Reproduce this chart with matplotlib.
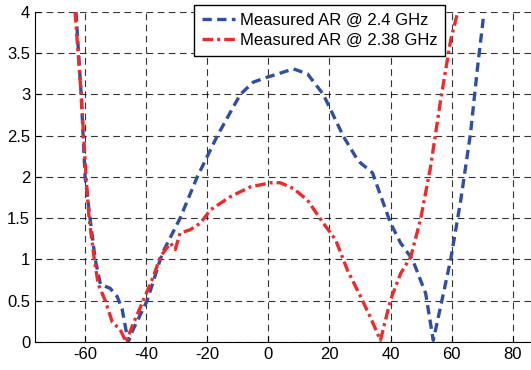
import numpy as np
import matplotlib
matplotlib.use('Agg')
import matplotlib.pyplot as plt

# Measured AR @ 2.4 GHz (angle in deg, AR in dB)
ang_24 = [-63.0, -61.3, -60.0, -58.4, -56.7, -55.0, -51.8, -49.5, -47.9, -45.9,
          -44.3, -39.7, -35.4, -34.4, -28.9, -23.3, -16.7, -9.2, -4.9, -0.3,
          4.0, 8.2, 12.8, 18.0, 24.6, 28.5, 30.2, 34.1, 40.0, 43.3, 47.2,
          51.5, 54.0, 56.4, 59.7, 63.0, 66.2, 68.5, 70.5]
ar_24 = [4.0, 3.0, 2.0, 1.5, 1.0, 0.7, 0.65, 0.55, 0.4, 0.0,
         0.15, 0.5, 1.0, 1.1, 1.5, 2.0, 2.5, 3.0, 3.15, 3.21,
         3.26, 3.31, 3.25, 3.0, 2.49, 2.25, 2.17, 2.05, 1.44, 1.2, 1.0,
         0.59, 0.02, 0.43, 1.0, 1.72, 2.53, 3.33, 3.96]

# Measured AR @ 2.38 GHz
ang_238 = [-63.3, -61.3, -59.7, -58.7, -57.0, -55.7, -53.4, -51.1, -48.5, -46.6,
           -44.5, -41.0, -37.7, -35.4, -32.1, -30.5, -28.9, -25.6, -22.3, -19.0,
           -12.5, -5.9, 0.7, 3.9, 8.2, 12.8, 18.0, 22.0, 25.9, 30.2, 33.4,
           36.7, 40.0, 43.3, 46.6, 49.8, 53.1, 56.4, 59.7, 62.0]
ar_238 = [4.0, 3.0, 2.0, 1.5, 1.0, 0.7, 0.5, 0.24, 0.15, 0.0,
          0.2, 0.5, 0.79, 1.03, 1.2, 1.12, 1.32, 1.36, 1.44, 1.6,
          1.76, 1.88, 1.93, 1.93, 1.86, 1.72, 1.44, 1.24, 0.87, 0.55, 0.3,
          0.02, 0.51, 0.83, 1.03, 1.48, 2.12, 2.93, 3.66, 4.0]

xticks = [-60, -40, -20, 0, 20, 40, 60, 80]
yticks = [0, 0.5, 1, 1.5, 2, 2.5, 3, 3.5, 4]

plt.rcParams['font.family'] = ['Liberation Sans', 'DejaVu Sans']
plt.rcParams['axes.unicode_minus'] = False

fig = plt.figure(figsize=(5.31, 3.70), dpi=100)
ax = fig.add_axes([0.066, 0.0757, 0.934, 0.892])

ax.plot(ang_24, ar_24, color='#2f4fa6', linestyle=(0, (2.8, 1.6)), linewidth=2.4,
        label='Measured AR @ 2.4 GHz')
ax.plot(ang_238, ar_238, color='#ee2a2a', linestyle=(0, (3.2, 1.2, 0.9, 1.2)), linewidth=2.4,
        label='Measured AR @ 2.38 GHz')

ax.set_xlim(-76.4, 86)
ax.set_ylim(0, 4)
ax.set_xticks(xticks)
ax.set_yticks(yticks)
ax.set_yticklabels(['0', '0.5', '1', '1.5', '2', '2.5', '3', '3.5', '4'])
ax.tick_params(direction='in', labelsize=12, length=4)
ax.grid(True, color='black', linestyle=(0, (6, 4)), linewidth=0.8, alpha=0.8)
ax.spines['top'].set_visible(False)
ax.spines['right'].set_visible(False)

leg = ax.legend(loc='upper left', bbox_to_anchor=(194 / 531, 1 - 5 / 370),
                bbox_transform=fig.transFigure, fontsize=12, fancybox=False,
                framealpha=1, edgecolor='black', borderpad=0.45, labelspacing=0.35,
                handlelength=2.0, handletextpad=0.3, borderaxespad=0)
leg.get_frame().set_linewidth(1.0)

fig.savefig('out.png', dpi=100)
